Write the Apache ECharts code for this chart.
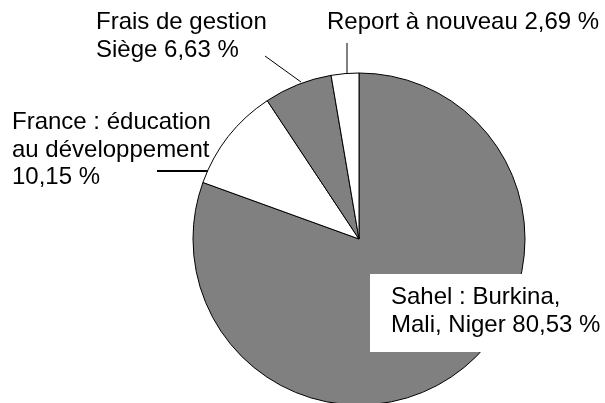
<!DOCTYPE html>
<html>
<head>
<meta charset="utf-8">
<script src="https://cdn.jsdelivr.net/npm/echarts@6/dist/echarts.min.js"></script>
<style>
  html, body { margin: 0; padding: 0; background: #fff; }
  #chart { width: 605px; height: 403px; }
</style>
</head>
<body>
<div id="chart"></div>
<script>
document.addEventListener('DOMContentLoaded', function () {

    // --- data ---
    const categories = [
        'Sahel : Burkina,\nMali, Niger',
        'France : éducation\nau développement',
        'Frais de gestion\nSiège',
        'Report à nouveau'
    ];
    const values = [80.53, 10.15, 6.63, 2.69];
    const labelSep = [' ', '\n', ' ', ' '];   // texte avant le pourcentage
    const sliceColors = ['#808080', '#ffffff', '#808080', '#ffffff'];

    // position des étiquettes (coin haut-gauche) et lignes de rappel
    const labelPos = [
        { x: 370, y: 274 },
        { x: 12, y: 109 },
        { x: 96, y: 9 },
        { x: 327, y: 9 }
    ];
    const leaderLines = [
        null,
        [[157, 171], [184, 171], [211, 171]],
        [[265, 56], [283, 69], [301, 82]],
        [[347, 43], [347, 58], [347, 73]]
    ];

    const fmt = v => v.toFixed(2).replace('.', ',') + ' %';

    const chart = echarts.init(document.getElementById('chart'));

    const seriesData = categories.map((name, i) => ({
        name: name,
        value: values[i],
        itemStyle: { color: sliceColors[i] },
        label: i === 0 ? {
            backgroundColor: '#ffffff',
            padding: [10, 40, 13, 21]
        } : {},
        labelLine: {
            show: i !== 0,
            lineStyle: { color: '#000', width: i === 1 ? 2 : 1 }
        }
    }));

    chart.setOption({
        animation: false,
        backgroundColor: '#ffffff',
        series: [{
            type: 'pie',
            silent: true,
            center: [359, 239],
            radius: 166,
            startAngle: 90,
            clockwise: true,
            avoidLabelOverlap: false,
            data: seriesData,
            itemStyle: {
                borderColor: '#000',
                borderWidth: 1
            },
            label: {
                show: true,
                position: 'outside',
                color: '#000',
                fontFamily: '"Liberation Sans", Arial, sans-serif',
                fontSize: 24,
                lineHeight: 27.5,
                align: 'left',
                formatter: p => p.name + labelSep[p.dataIndex] + fmt(p.value)
            },
            labelLine: {
                show: true,
                smooth: false,
                length: 10,
                length2: 10
            },
            labelLayout: function (params) {
                const i = params.dataIndex;
                const res = {
                    x: labelPos[i].x,
                    y: labelPos[i].y,
                    align: 'left',
                    verticalAlign: 'top'
                };
                if (leaderLines[i]) {
                    res.labelLinePoints = leaderLines[i];
                }
                return res;
            }
        }]
    });

    window.addEventListener('resize', function () {
        chart.resize();
    });
});
</script>
</body>
</html>
